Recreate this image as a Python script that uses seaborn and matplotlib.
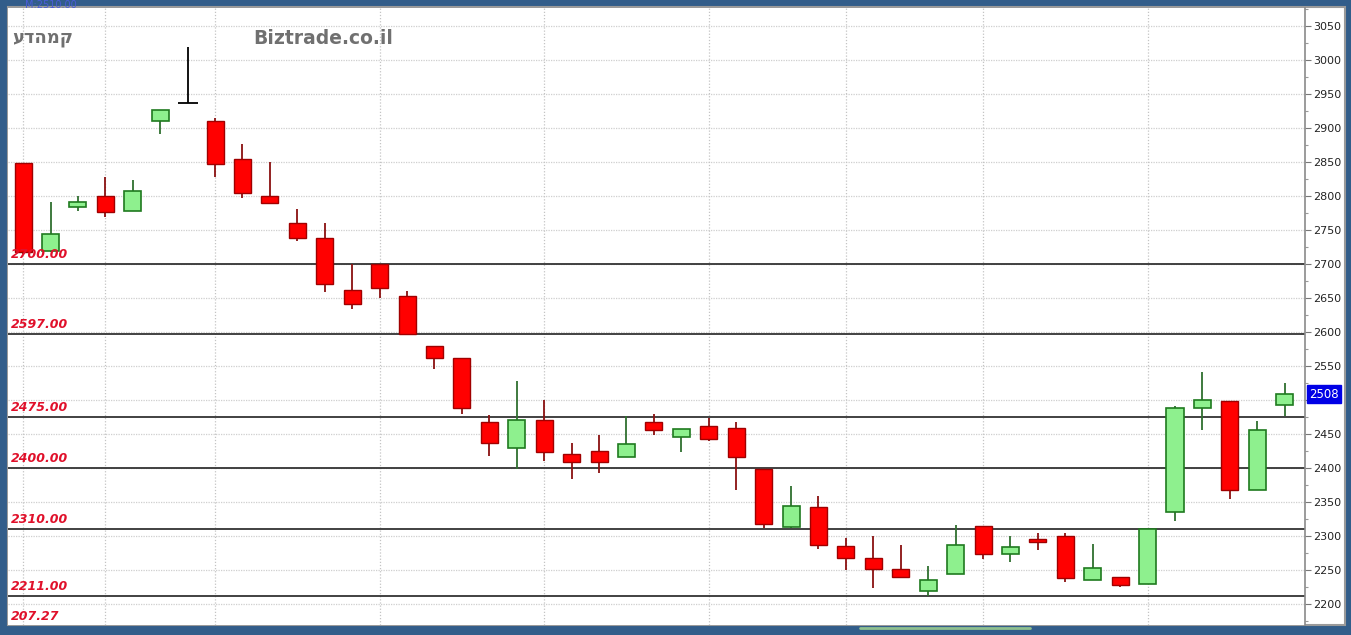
import numpy as np
import matplotlib
matplotlib.use("Agg")
import matplotlib.pyplot as plt
from matplotlib.patches import Rectangle
from matplotlib.lines import Line2D
import seaborn as sns

# ---------------- data ----------------
week_index = list(range(47))
opens  = [2848, 2719, 2784, 2800, 2778, 2910, 2937, 2910, 2854, 2800,
          2760, 2738, 2662, 2700, 2652, 2579, 2562, 2468, 2429, 2471,
          2421, 2425, 2416, 2468, 2446, 2462, 2459, 2399, 2313, 2343,
          2285, 2268, 2252, 2219, 2244, 2315, 2274, 2296, 2300, 2235,
          2240, 2229, 2335, 2488, 2499, 2368, 2493]
highs  = [2848, 2791, 2800, 2828, 2823, 2926, 3019, 2914, 2876, 2850,
          2780, 2760, 2700, 2700, 2660, 2579, 2562, 2478, 2528, 2500,
          2437, 2449, 2476, 2479, 2457, 2474, 2468, 2399, 2374, 2359,
          2297, 2300, 2287, 2256, 2316, 2315, 2300, 2304, 2304, 2288,
          2240, 2310, 2491, 2541, 2499, 2469, 2525]
lows   = [2715, 2718, 2777, 2769, 2778, 2891, 2937, 2828, 2797, 2790,
          2734, 2659, 2634, 2649, 2597, 2545, 2479, 2418, 2399, 2410,
          2384, 2393, 2416, 2449, 2424, 2440, 2368, 2312, 2312, 2281,
          2250, 2224, 2238, 2212, 2244, 2266, 2262, 2279, 2232, 2235,
          2225, 2229, 2322, 2456, 2354, 2368, 2476]
closes = [2717, 2744, 2791, 2776, 2807, 2926, 2937, 2846, 2804, 2790,
          2738, 2671, 2641, 2664, 2597, 2562, 2488, 2437, 2471, 2424,
          2409, 2409, 2435, 2456, 2457, 2443, 2416, 2318, 2344, 2287,
          2268, 2252, 2240, 2235, 2287, 2274, 2284, 2291, 2238, 2253,
          2228, 2310, 2488, 2500, 2368, 2456, 2508]

level_values = [2700.00, 2597.00, 2475.00, 2400.00, 2310.00, 2211.00]
level_labels = ["2700.00", "2597.00", "2475.00", "2400.00", "2310.00", "2211.00"]
extra_label = "207.27"
extra_label_value = 2181

month_grid_index = [0, 3, 7, 13, 19, 25, 30, 35, 41]
y_ticks = list(range(2200, 3051, 50))
last_price = 2508
title_left = "עדהמק"
title_site = "Biztrade.co.il"
top_info = "M:2510.00"

# ---------------- style ----------------
sns.set_theme(style="white")
plt.rcParams['font.family'] = ['DejaVu Sans']

W, H = 1351, 635
fig = plt.figure(figsize=(W / 100, H / 100), dpi=100)
fig.patch.set_facecolor("#325d8a")

# white panel incl. price-axis area
fig.add_artist(Rectangle((8 / W, 10 / H), (1345 - 8) / W, (626 - 8) / H,
                         transform=fig.transFigure, facecolor="white",
                         edgecolor="#9a9a9a", linewidth=1.5, zorder=0))
# scrollbar hint at bottom
fig.add_artist(Line2D([860 / W, 1030 / W], [7.5 / H, 7.5 / H], transform=fig.transFigure,
                      color="#8fc08f", linewidth=2, zorder=1))

ax = fig.add_axes([8 / W, 10 / H, (1305 - 8) / W, (625 - 8) / H])
ax.set_facecolor("white")

x = np.array(week_index, dtype=float)
o = np.array(opens, dtype=float)
h = np.array(highs, dtype=float)
l = np.array(lows, dtype=float)
c = np.array(closes, dtype=float)

ax.set_xlim(-0.55, 46.74)
ax.set_ylim(2169, 3076)

# grid
for yt in y_ticks:
    ax.axhline(yt, color="#cfcfcf", linewidth=0.9, linestyle=(0, (1, 1)), zorder=0.5)
for gi in month_grid_index:
    ax.axvline(gi, color="#c4c4c4", linewidth=0.9, linestyle=(0, (1, 1.5)), zorder=0.5)

# level lines + labels
for lv, lab in zip(level_values, level_labels):
    ax.axhline(lv, color="#333333", linewidth=1.3, zorder=1)
    ax.annotate(lab, xy=(0, lv), xycoords=ax.get_yaxis_transform(),
                xytext=(2, 6.8), textcoords="offset points",
                ha="left", va="center", color="#e0102a", fontsize=9,
                fontweight="bold", fontstyle="italic", zorder=5)
ax.annotate(extra_label, xy=(0, extra_label_value), xycoords=ax.get_yaxis_transform(),
            xytext=(2, 0), textcoords="offset points",
            ha="left", va="center", color="#e0102a", fontsize=9,
            fontweight="bold", fontstyle="italic", zorder=5)

# candles
bw = 0.62
up = c > o
dn = c < o
eq = c == o

ax.vlines(x[up], l[up], h[up], color="#2f6f2f", linewidth=1.3, zorder=2)
ax.vlines(x[dn], l[dn], h[dn], color="#8a1010", linewidth=1.3, zorder=2)
ax.vlines(x[eq], l[eq], h[eq], color="#000000", linewidth=1.3, zorder=2)

ax.bar(x[up], (c - o)[up], bottom=o[up], width=bw, color="#8ef08e",
       edgecolor="#1f7a1f", linewidth=1.2, zorder=3)
ax.bar(x[dn], (o - c)[dn], bottom=c[dn], width=bw, color="#ff0000",
       edgecolor="#a00000", linewidth=1.0, zorder=3)
ax.hlines(o[eq], x[eq] - bw / 2 - 0.05, x[eq] + bw / 2 + 0.05, color="#000000",
          linewidth=1.3, zorder=3)

# right price axis
for s in ["top", "left", "bottom"]:
    ax.spines[s].set_visible(False)
ax.spines["right"].set_color("#8a8a8a")
ax.spines["right"].set_linewidth(1.2)
ax.set_xticks([])
ax.yaxis.tick_right()
ax.set_yticks(y_ticks)
ax.set_yticklabels(["" if t == 2500 else str(t) for t in y_ticks])
ax.set_yticks(np.arange(2175, 3076, 50), minor=True)
ax.tick_params(axis="y", which="major", right=True, length=4, width=0.8,
               color="#777777", labelsize=8, labelcolor="#222222", pad=2)
ax.tick_params(axis="y", which="minor", right=True, length=2.5, width=0.8,
               color="#999999")

# last price box
ax.annotate(str(last_price), xy=(1.0, last_price), xycoords=ax.get_yaxis_transform(),
            xytext=(3, 0), textcoords="offset points", ha="left", va="center",
            color="white", fontsize=8.5, annotation_clip=False,
            bbox=dict(boxstyle="square,pad=0.22", facecolor="#0000e6", edgecolor="#0000e6"),
            zorder=10)

# header texts
fig.text(12 / W, 1 - 38 / H, title_left, ha="left", va="center", fontsize=13,
         fontweight="bold", color="#707070", family=["DejaVu Sans"])
fig.text(253 / W, 1 - 38 / H, title_site, ha="left", va="center", fontsize=13.5,
         fontweight="bold", color="#707070")
fig.text(25 / W, 1 - 5 / H, top_info, ha="left", va="center", fontsize=7,
         color="#4a5cd8")

fig.savefig("out.png", dpi=100, facecolor=fig.get_facecolor())
